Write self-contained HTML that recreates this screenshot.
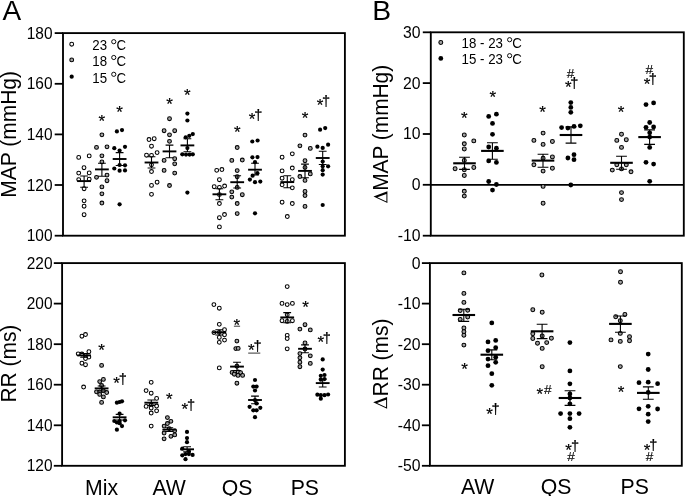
<!DOCTYPE html>
<html><head><meta charset="utf-8"><title>Figure</title>
<style>html,body{margin:0;padding:0;background:#fff}svg{display:block;will-change:transform}text{font-family:"Liberation Sans", sans-serif;fill:#000}</style>
</head><body>
<svg width="685" height="496" viewBox="0 0 685 496">
<rect x="0" y="0" width="685" height="496" fill="#fff"/>
<rect x="63.0" y="33.1" width="281.9" height="202.6" fill="none" stroke="#000" stroke-width="1.85"/>
<rect x="62.1" y="263.1" width="282.8" height="202.7" fill="none" stroke="#000" stroke-width="1.85"/>
<rect x="430.8" y="32.3" width="253.0" height="203.4" fill="none" stroke="#000" stroke-width="1.85"/>
<rect x="429.9" y="263.1" width="251.9" height="202.7" fill="none" stroke="#000" stroke-width="1.85"/>
<path d="M54.7 33.1H63.0" stroke="#000" stroke-width="1.8"/>
<text transform="translate(52.5,38.6) scale(0.945,1)" font-size="16.35" text-anchor="end">180</text>
<path d="M54.7 83.8H63.0" stroke="#000" stroke-width="1.8"/>
<text transform="translate(52.5,89.2) scale(0.945,1)" font-size="16.35" text-anchor="end">160</text>
<path d="M54.7 134.4H63.0" stroke="#000" stroke-width="1.8"/>
<text transform="translate(52.5,139.8) scale(0.945,1)" font-size="16.35" text-anchor="end">140</text>
<path d="M54.7 185.0H63.0" stroke="#000" stroke-width="1.8"/>
<text transform="translate(52.5,190.5) scale(0.945,1)" font-size="16.35" text-anchor="end">120</text>
<path d="M54.7 235.7H63.0" stroke="#000" stroke-width="1.8"/>
<text transform="translate(52.5,241.1) scale(0.945,1)" font-size="16.35" text-anchor="end">100</text>
<path d="M53.8 263.1H62.1" stroke="#000" stroke-width="1.8"/>
<text transform="translate(52.5,268.6) scale(0.945,1)" font-size="16.35" text-anchor="end">220</text>
<path d="M53.8 303.6H62.1" stroke="#000" stroke-width="1.8"/>
<text transform="translate(52.5,309.1) scale(0.945,1)" font-size="16.35" text-anchor="end">200</text>
<path d="M53.8 344.2H62.1" stroke="#000" stroke-width="1.8"/>
<text transform="translate(52.5,349.6) scale(0.945,1)" font-size="16.35" text-anchor="end">180</text>
<path d="M53.8 384.7H62.1" stroke="#000" stroke-width="1.8"/>
<text transform="translate(52.5,390.2) scale(0.945,1)" font-size="16.35" text-anchor="end">160</text>
<path d="M53.8 425.3H62.1" stroke="#000" stroke-width="1.8"/>
<text transform="translate(52.5,430.7) scale(0.945,1)" font-size="16.35" text-anchor="end">140</text>
<path d="M53.8 465.8H62.1" stroke="#000" stroke-width="1.8"/>
<text transform="translate(52.5,471.2) scale(0.945,1)" font-size="16.35" text-anchor="end">120</text>
<path d="M422.8 32.3H430.8" stroke="#000" stroke-width="1.8"/>
<text transform="translate(420.6,37.8) scale(0.965,1)" font-size="16.35" text-anchor="end">30</text>
<path d="M422.8 83.1H430.8" stroke="#000" stroke-width="1.8"/>
<text transform="translate(420.6,88.6) scale(0.965,1)" font-size="16.35" text-anchor="end">20</text>
<path d="M422.8 134.0H430.8" stroke="#000" stroke-width="1.8"/>
<text transform="translate(420.6,139.4) scale(0.965,1)" font-size="16.35" text-anchor="end">10</text>
<path d="M422.8 184.8H430.8" stroke="#000" stroke-width="1.8"/>
<text transform="translate(420.6,190.3) scale(0.965,1)" font-size="16.35" text-anchor="end">0</text>
<path d="M422.8 235.7H430.8" stroke="#000" stroke-width="1.8"/>
<text transform="translate(420.6,241.1) scale(0.965,1)" font-size="16.35" text-anchor="end">-10</text>
<path d="M421.9 263.1H429.9" stroke="#000" stroke-width="1.8"/>
<text transform="translate(420.6,268.6) scale(0.965,1)" font-size="16.35" text-anchor="end">0</text>
<path d="M421.9 303.6H429.9" stroke="#000" stroke-width="1.8"/>
<text transform="translate(420.6,309.1) scale(0.965,1)" font-size="16.35" text-anchor="end">-10</text>
<path d="M421.9 344.2H429.9" stroke="#000" stroke-width="1.8"/>
<text transform="translate(420.6,349.6) scale(0.965,1)" font-size="16.35" text-anchor="end">-20</text>
<path d="M421.9 384.7H429.9" stroke="#000" stroke-width="1.8"/>
<text transform="translate(420.6,390.2) scale(0.965,1)" font-size="16.35" text-anchor="end">-30</text>
<path d="M421.9 425.3H429.9" stroke="#000" stroke-width="1.8"/>
<text transform="translate(420.6,430.7) scale(0.965,1)" font-size="16.35" text-anchor="end">-40</text>
<path d="M421.9 465.8H429.9" stroke="#000" stroke-width="1.8"/>
<text transform="translate(420.6,471.2) scale(0.965,1)" font-size="16.35" text-anchor="end">-50</text>
<path d="M430.8 184.8H683.8" stroke="#000" stroke-width="1.85"/>
<text x="2.6" y="19.7" font-size="28">A</text>
<text x="372.3" y="19.8" font-size="28.3">B</text>
<text transform="translate(16.4,197.7) rotate(-90) scale(0.959,1)" font-size="21.9">MAP (mmHg)</text>
<text transform="translate(16.4,402.5) rotate(-90) scale(0.955,1)" font-size="21.9">RR (ms)</text>
<path d="M387.40 203.00 L373.50 196.50 L387.40 191.30Z M386.40 201.53 L377.36 197.31 L386.40 193.92Z" fill="#000" fill-rule="evenodd"/>
<text transform="translate(387.9,190.8) rotate(-90) scale(0.953,1)" font-size="21.9">MAP (mmHg)</text>
<path d="M387.10 408.80 L373.20 402.30 L387.10 397.10Z M386.10 407.33 L377.06 403.11 L386.10 399.72Z" fill="#000" fill-rule="evenodd"/>
<text transform="translate(387.8,396.4) rotate(-90) scale(0.955,1)" font-size="21.9">RR (ms)</text>
<text transform="translate(101.6,494.6) scale(0.975,1)" font-size="21.8" text-anchor="middle">Mix</text>
<text transform="translate(169.2,494.6) scale(0.975,1)" font-size="21.8" text-anchor="middle">AW</text>
<text transform="translate(237,494.6) scale(0.975,1)" font-size="21.8" text-anchor="middle">QS</text>
<text transform="translate(304.8,494.6) scale(0.975,1)" font-size="21.8" text-anchor="middle">PS</text>
<text transform="translate(477.6,494.3) scale(0.975,1)" font-size="21.8" text-anchor="middle">AW</text>
<text transform="translate(556.1,494.3) scale(0.975,1)" font-size="21.8" text-anchor="middle">QS</text>
<text transform="translate(634.7,494.3) scale(0.975,1)" font-size="21.8" text-anchor="middle">PS</text>
<circle cx="71.7" cy="44.2" r="1.9" fill="#fff" stroke="#000" stroke-width="1.05"/>
<text transform="translate(92.3,50.3) scale(0.935,1)" font-size="14.2">23</text>
<circle cx="113.76" cy="41.70" r="2.1" fill="none" stroke="#000" stroke-width="0.95"/>
<text transform="translate(116.51,50.3) scale(0.935,1)" font-size="14.2">C</text>
<circle cx="71.7" cy="59.9" r="1.9" fill="#a2a2a2" stroke="#000" stroke-width="1.05"/>
<text transform="translate(92.3,66.1) scale(0.935,1)" font-size="14.2">18</text>
<circle cx="113.76" cy="57.50" r="2.1" fill="none" stroke="#000" stroke-width="0.95"/>
<text transform="translate(116.51,66.1) scale(0.935,1)" font-size="14.2">C</text>
<circle cx="71.7" cy="76.7" r="2.1" fill="#000"/>
<text transform="translate(92.3,82.9) scale(0.935,1)" font-size="14.2">15</text>
<circle cx="113.76" cy="74.30" r="2.1" fill="none" stroke="#000" stroke-width="0.95"/>
<text transform="translate(116.51,82.9) scale(0.935,1)" font-size="14.2">C</text>
<circle cx="440.8" cy="42.5" r="1.95" fill="#a2a2a2" stroke="#000" stroke-width="1.05"/>
<text transform="translate(461.6,48.3) scale(0.935,1)" font-size="14.2">18 - 23</text>
<circle cx="509.62" cy="39.70" r="2.1" fill="none" stroke="#000" stroke-width="0.95"/>
<text transform="translate(512.37,48.3) scale(0.935,1)" font-size="14.2">C</text>
<circle cx="440.8" cy="58.4" r="2.4" fill="#000"/>
<text transform="translate(461.6,64.3) scale(0.935,1)" font-size="14.2">15 - 23</text>
<circle cx="509.62" cy="55.70" r="2.1" fill="none" stroke="#000" stroke-width="0.95"/>
<text transform="translate(512.37,64.3) scale(0.935,1)" font-size="14.2">C</text>
<circle cx="78.7" cy="157.4" r="1.9" fill="#fff" stroke="#000" stroke-width="1.05"/>
<circle cx="89.2" cy="155.9" r="1.9" fill="#fff" stroke="#000" stroke-width="1.05"/>
<circle cx="84.0" cy="167.7" r="1.9" fill="#fff" stroke="#000" stroke-width="1.05"/>
<circle cx="78.7" cy="173.1" r="1.9" fill="#fff" stroke="#000" stroke-width="1.05"/>
<circle cx="89.2" cy="172.9" r="1.9" fill="#fff" stroke="#000" stroke-width="1.05"/>
<circle cx="78.7" cy="179.6" r="1.9" fill="#fff" stroke="#000" stroke-width="1.05"/>
<circle cx="89.2" cy="179.2" r="1.9" fill="#fff" stroke="#000" stroke-width="1.05"/>
<circle cx="84.1" cy="188.7" r="1.9" fill="#fff" stroke="#000" stroke-width="1.05"/>
<circle cx="84.1" cy="200.8" r="1.9" fill="#fff" stroke="#000" stroke-width="1.05"/>
<circle cx="84.1" cy="206.2" r="1.9" fill="#fff" stroke="#000" stroke-width="1.05"/>
<circle cx="84.1" cy="214.7" r="1.9" fill="#fff" stroke="#000" stroke-width="1.05"/>
<path d="M84.1 176.0V187.2M80.2 176.0H88.0M80.2 187.2H88.0" stroke="#000" stroke-width="1.1" fill="none"/>
<path d="M77.2 181.1H91.0" stroke="#000" stroke-width="1.9" fill="none"/>
<circle cx="101.9" cy="134.8" r="1.9" fill="#a2a2a2" stroke="#000" stroke-width="1.05"/>
<circle cx="96.5" cy="147.4" r="1.9" fill="#a2a2a2" stroke="#000" stroke-width="1.05"/>
<circle cx="107.0" cy="146.8" r="1.9" fill="#a2a2a2" stroke="#000" stroke-width="1.05"/>
<circle cx="101.9" cy="155.8" r="1.9" fill="#a2a2a2" stroke="#000" stroke-width="1.05"/>
<circle cx="101.9" cy="161.9" r="1.9" fill="#a2a2a2" stroke="#000" stroke-width="1.05"/>
<circle cx="107.0" cy="175.1" r="1.9" fill="#a2a2a2" stroke="#000" stroke-width="1.05"/>
<circle cx="96.5" cy="177.3" r="1.9" fill="#a2a2a2" stroke="#000" stroke-width="1.05"/>
<circle cx="107.0" cy="180.7" r="1.9" fill="#a2a2a2" stroke="#000" stroke-width="1.05"/>
<circle cx="101.9" cy="186.9" r="1.9" fill="#a2a2a2" stroke="#000" stroke-width="1.05"/>
<circle cx="101.9" cy="193.8" r="1.9" fill="#a2a2a2" stroke="#000" stroke-width="1.05"/>
<circle cx="101.9" cy="203.0" r="1.9" fill="#a2a2a2" stroke="#000" stroke-width="1.05"/>
<path d="M101.9 163.2V176.3M98.0 163.2H105.8M98.0 176.3H105.8" stroke="#000" stroke-width="1.1" fill="none"/>
<path d="M95.0 169.4H108.8" stroke="#000" stroke-width="1.9" fill="none"/>
<circle cx="116.9" cy="131.4" r="2.1" fill="#000"/>
<circle cx="122.0" cy="130.1" r="2.1" fill="#000"/>
<circle cx="114.3" cy="148.2" r="2.1" fill="#000"/>
<circle cx="125.0" cy="146.8" r="2.1" fill="#000"/>
<circle cx="119.6" cy="150.5" r="2.1" fill="#000"/>
<circle cx="119.6" cy="165.0" r="2.1" fill="#000"/>
<circle cx="125.0" cy="165.3" r="2.1" fill="#000"/>
<circle cx="114.3" cy="168.5" r="2.1" fill="#000"/>
<circle cx="119.6" cy="170.7" r="2.1" fill="#000"/>
<circle cx="125.0" cy="170.4" r="2.1" fill="#000"/>
<circle cx="119.6" cy="204.3" r="2.1" fill="#000"/>
<path d="M119.6 152.6V165.5M115.7 152.6H123.5M115.7 165.5H123.5" stroke="#000" stroke-width="1.1" fill="none"/>
<path d="M112.7 159.0H126.5" stroke="#000" stroke-width="1.9" fill="none"/>
<circle cx="149.0" cy="139.5" r="1.9" fill="#fff" stroke="#000" stroke-width="1.05"/>
<circle cx="154.2" cy="138.7" r="1.9" fill="#fff" stroke="#000" stroke-width="1.05"/>
<circle cx="151.5" cy="146.2" r="1.9" fill="#fff" stroke="#000" stroke-width="1.05"/>
<circle cx="146.5" cy="155.2" r="1.9" fill="#fff" stroke="#000" stroke-width="1.05"/>
<circle cx="151.5" cy="155.3" r="1.9" fill="#fff" stroke="#000" stroke-width="1.05"/>
<circle cx="157.1" cy="152.6" r="1.9" fill="#fff" stroke="#000" stroke-width="1.05"/>
<circle cx="151.5" cy="164.8" r="1.9" fill="#fff" stroke="#000" stroke-width="1.05"/>
<circle cx="151.5" cy="171.5" r="1.9" fill="#fff" stroke="#000" stroke-width="1.05"/>
<circle cx="157.1" cy="182.2" r="1.9" fill="#fff" stroke="#000" stroke-width="1.05"/>
<circle cx="151.5" cy="185.4" r="1.9" fill="#fff" stroke="#000" stroke-width="1.05"/>
<circle cx="151.5" cy="194.3" r="1.9" fill="#fff" stroke="#000" stroke-width="1.05"/>
<path d="M151.5 156.7V168.0M147.6 156.7H155.4M147.6 168.0H155.4" stroke="#000" stroke-width="1.1" fill="none"/>
<path d="M144.6 162.5H158.4" stroke="#000" stroke-width="1.9" fill="none"/>
<circle cx="169.5" cy="118.7" r="1.9" fill="#a2a2a2" stroke="#000" stroke-width="1.05"/>
<circle cx="164.1" cy="130.7" r="1.9" fill="#a2a2a2" stroke="#000" stroke-width="1.05"/>
<circle cx="174.7" cy="130.7" r="1.9" fill="#a2a2a2" stroke="#000" stroke-width="1.05"/>
<circle cx="169.5" cy="134.8" r="1.9" fill="#a2a2a2" stroke="#000" stroke-width="1.05"/>
<circle cx="169.5" cy="141.3" r="1.9" fill="#a2a2a2" stroke="#000" stroke-width="1.05"/>
<circle cx="174.7" cy="158.7" r="1.9" fill="#a2a2a2" stroke="#000" stroke-width="1.05"/>
<circle cx="164.1" cy="160.4" r="1.9" fill="#a2a2a2" stroke="#000" stroke-width="1.05"/>
<circle cx="174.7" cy="163.8" r="1.9" fill="#a2a2a2" stroke="#000" stroke-width="1.05"/>
<circle cx="164.1" cy="170.4" r="1.9" fill="#a2a2a2" stroke="#000" stroke-width="1.05"/>
<circle cx="174.7" cy="173.1" r="1.9" fill="#a2a2a2" stroke="#000" stroke-width="1.05"/>
<circle cx="169.5" cy="185.5" r="1.9" fill="#a2a2a2" stroke="#000" stroke-width="1.05"/>
<path d="M169.5 145.1V157.8M165.6 145.1H173.4M165.6 157.8H173.4" stroke="#000" stroke-width="1.1" fill="none"/>
<path d="M162.6 151.4H176.4" stroke="#000" stroke-width="1.9" fill="none"/>
<circle cx="187.4" cy="113.6" r="2.1" fill="#000"/>
<circle cx="187.4" cy="120.5" r="2.1" fill="#000"/>
<circle cx="192.8" cy="134.1" r="2.1" fill="#000"/>
<circle cx="189.3" cy="135.8" r="2.1" fill="#000"/>
<circle cx="185.7" cy="137.3" r="2.1" fill="#000"/>
<circle cx="187.4" cy="148.1" r="2.1" fill="#000"/>
<circle cx="182.3" cy="154.3" r="2.1" fill="#000"/>
<circle cx="186.0" cy="154.6" r="2.1" fill="#000"/>
<circle cx="189.6" cy="154.6" r="2.1" fill="#000"/>
<circle cx="192.8" cy="154.3" r="2.1" fill="#000"/>
<circle cx="187.4" cy="192.6" r="2.1" fill="#000"/>
<path d="M187.4 138.7V151.7M183.5 138.7H191.3M183.5 151.7H191.3" stroke="#000" stroke-width="1.1" fill="none"/>
<path d="M180.5 145.4H194.3" stroke="#000" stroke-width="1.9" fill="none"/>
<circle cx="216.7" cy="170.3" r="1.9" fill="#fff" stroke="#000" stroke-width="1.05"/>
<circle cx="221.9" cy="169.5" r="1.9" fill="#fff" stroke="#000" stroke-width="1.05"/>
<circle cx="219.4" cy="179.7" r="1.9" fill="#fff" stroke="#000" stroke-width="1.05"/>
<circle cx="214.2" cy="186.7" r="1.9" fill="#fff" stroke="#000" stroke-width="1.05"/>
<circle cx="219.4" cy="187.4" r="1.9" fill="#fff" stroke="#000" stroke-width="1.05"/>
<circle cx="224.6" cy="186.0" r="1.9" fill="#fff" stroke="#000" stroke-width="1.05"/>
<circle cx="219.4" cy="194.6" r="1.9" fill="#fff" stroke="#000" stroke-width="1.05"/>
<circle cx="219.4" cy="203.5" r="1.9" fill="#fff" stroke="#000" stroke-width="1.05"/>
<circle cx="224.5" cy="214.5" r="1.9" fill="#fff" stroke="#000" stroke-width="1.05"/>
<circle cx="219.4" cy="217.7" r="1.9" fill="#fff" stroke="#000" stroke-width="1.05"/>
<circle cx="219.4" cy="226.9" r="1.9" fill="#fff" stroke="#000" stroke-width="1.05"/>
<path d="M219.4 188.7V199.8M215.5 188.7H223.3M215.5 199.8H223.3" stroke="#000" stroke-width="1.1" fill="none"/>
<path d="M212.5 194.3H226.3" stroke="#000" stroke-width="1.9" fill="none"/>
<circle cx="237.2" cy="147.5" r="1.9" fill="#a2a2a2" stroke="#000" stroke-width="1.05"/>
<circle cx="231.8" cy="160.4" r="1.9" fill="#a2a2a2" stroke="#000" stroke-width="1.05"/>
<circle cx="242.3" cy="160.0" r="1.9" fill="#a2a2a2" stroke="#000" stroke-width="1.05"/>
<circle cx="237.2" cy="170.6" r="1.9" fill="#a2a2a2" stroke="#000" stroke-width="1.05"/>
<circle cx="237.2" cy="176.7" r="1.9" fill="#a2a2a2" stroke="#000" stroke-width="1.05"/>
<circle cx="237.2" cy="187.4" r="1.9" fill="#a2a2a2" stroke="#000" stroke-width="1.05"/>
<circle cx="231.8" cy="191.8" r="1.9" fill="#a2a2a2" stroke="#000" stroke-width="1.05"/>
<circle cx="242.3" cy="194.7" r="1.9" fill="#a2a2a2" stroke="#000" stroke-width="1.05"/>
<circle cx="231.8" cy="197.1" r="1.9" fill="#a2a2a2" stroke="#000" stroke-width="1.05"/>
<circle cx="237.2" cy="203.5" r="1.9" fill="#a2a2a2" stroke="#000" stroke-width="1.05"/>
<circle cx="237.2" cy="213.6" r="1.9" fill="#a2a2a2" stroke="#000" stroke-width="1.05"/>
<path d="M237.2 175.8V188.0M233.3 175.8H241.1M233.3 188.0H241.1" stroke="#000" stroke-width="1.1" fill="none"/>
<path d="M230.3 182.2H244.1" stroke="#000" stroke-width="1.9" fill="none"/>
<circle cx="252.3" cy="141.5" r="2.1" fill="#000"/>
<circle cx="257.6" cy="140.5" r="2.1" fill="#000"/>
<circle cx="252.4" cy="157.3" r="2.1" fill="#000"/>
<circle cx="257.5" cy="157.1" r="2.1" fill="#000"/>
<circle cx="255.0" cy="162.2" r="2.1" fill="#000"/>
<circle cx="257.4" cy="173.2" r="2.1" fill="#000"/>
<circle cx="252.6" cy="175.7" r="2.1" fill="#000"/>
<circle cx="249.9" cy="179.6" r="2.1" fill="#000"/>
<circle cx="255.0" cy="182.2" r="2.1" fill="#000"/>
<circle cx="260.3" cy="181.6" r="2.1" fill="#000"/>
<circle cx="255.0" cy="213.3" r="2.1" fill="#000"/>
<path d="M255.0 163.3V175.0M251.1 163.3H258.9M251.1 175.0H258.9" stroke="#000" stroke-width="1.1" fill="none"/>
<path d="M248.1 169.7H261.9" stroke="#000" stroke-width="1.9" fill="none"/>
<circle cx="282.1" cy="157.2" r="1.9" fill="#fff" stroke="#000" stroke-width="1.05"/>
<circle cx="292.3" cy="153.8" r="1.9" fill="#fff" stroke="#000" stroke-width="1.05"/>
<circle cx="282.1" cy="170.9" r="1.9" fill="#fff" stroke="#000" stroke-width="1.05"/>
<circle cx="292.3" cy="168.0" r="1.9" fill="#fff" stroke="#000" stroke-width="1.05"/>
<circle cx="282.1" cy="178.2" r="1.9" fill="#fff" stroke="#000" stroke-width="1.05"/>
<circle cx="292.3" cy="179.7" r="1.9" fill="#fff" stroke="#000" stroke-width="1.05"/>
<circle cx="282.1" cy="184.8" r="1.9" fill="#fff" stroke="#000" stroke-width="1.05"/>
<circle cx="292.3" cy="187.8" r="1.9" fill="#fff" stroke="#000" stroke-width="1.05"/>
<circle cx="282.1" cy="202.2" r="1.9" fill="#fff" stroke="#000" stroke-width="1.05"/>
<circle cx="292.3" cy="203.5" r="1.9" fill="#fff" stroke="#000" stroke-width="1.05"/>
<circle cx="287.3" cy="216.5" r="1.9" fill="#fff" stroke="#000" stroke-width="1.05"/>
<path d="M287.3 175.8V187.7M283.4 175.8H291.2M283.4 187.7H291.2" stroke="#000" stroke-width="1.1" fill="none"/>
<path d="M280.4 182.1H294.2" stroke="#000" stroke-width="1.9" fill="none"/>
<circle cx="305.0" cy="135.1" r="1.9" fill="#a2a2a2" stroke="#000" stroke-width="1.05"/>
<circle cx="299.9" cy="145.8" r="1.9" fill="#a2a2a2" stroke="#000" stroke-width="1.05"/>
<circle cx="310.3" cy="148.4" r="1.9" fill="#a2a2a2" stroke="#000" stroke-width="1.05"/>
<circle cx="305.0" cy="160.7" r="1.9" fill="#a2a2a2" stroke="#000" stroke-width="1.05"/>
<circle cx="305.0" cy="167.4" r="1.9" fill="#a2a2a2" stroke="#000" stroke-width="1.05"/>
<circle cx="299.9" cy="176.5" r="1.9" fill="#a2a2a2" stroke="#000" stroke-width="1.05"/>
<circle cx="310.3" cy="173.9" r="1.9" fill="#a2a2a2" stroke="#000" stroke-width="1.05"/>
<circle cx="305.0" cy="180.4" r="1.9" fill="#a2a2a2" stroke="#000" stroke-width="1.05"/>
<circle cx="305.0" cy="191.4" r="1.9" fill="#a2a2a2" stroke="#000" stroke-width="1.05"/>
<circle cx="305.0" cy="195.5" r="1.9" fill="#a2a2a2" stroke="#000" stroke-width="1.05"/>
<circle cx="305.0" cy="206.4" r="1.9" fill="#a2a2a2" stroke="#000" stroke-width="1.05"/>
<path d="M305.0 164.1V177.7M301.1 164.1H308.9M301.1 177.7H308.9" stroke="#000" stroke-width="1.1" fill="none"/>
<path d="M298.1 170.9H311.9" stroke="#000" stroke-width="1.9" fill="none"/>
<circle cx="320.1" cy="129.7" r="2.1" fill="#000"/>
<circle cx="325.2" cy="128.1" r="2.1" fill="#000"/>
<circle cx="317.4" cy="146.7" r="2.1" fill="#000"/>
<circle cx="322.7" cy="147.9" r="2.1" fill="#000"/>
<circle cx="328.1" cy="144.7" r="2.1" fill="#000"/>
<circle cx="322.7" cy="161.6" r="2.1" fill="#000"/>
<circle cx="322.7" cy="166.3" r="2.1" fill="#000"/>
<circle cx="328.1" cy="166.3" r="2.1" fill="#000"/>
<circle cx="322.7" cy="170.2" r="2.1" fill="#000"/>
<circle cx="322.7" cy="174.6" r="2.1" fill="#000"/>
<circle cx="322.7" cy="205.0" r="2.1" fill="#000"/>
<path d="M322.7 151.3V164.5M318.8 151.3H326.6M318.8 164.5H326.6" stroke="#000" stroke-width="1.1" fill="none"/>
<path d="M315.8 158.0H329.6" stroke="#000" stroke-width="1.9" fill="none"/>
<circle cx="81.9" cy="336.2" r="1.9" fill="#fff" stroke="#000" stroke-width="1.05"/>
<circle cx="85.5" cy="334.5" r="1.9" fill="#fff" stroke="#000" stroke-width="1.05"/>
<circle cx="78.2" cy="353.8" r="1.9" fill="#fff" stroke="#000" stroke-width="1.05"/>
<circle cx="88.9" cy="351.7" r="1.9" fill="#fff" stroke="#000" stroke-width="1.05"/>
<circle cx="81.9" cy="354.0" r="1.9" fill="#fff" stroke="#000" stroke-width="1.05"/>
<circle cx="85.5" cy="355.5" r="1.9" fill="#fff" stroke="#000" stroke-width="1.05"/>
<circle cx="88.9" cy="357.1" r="1.9" fill="#fff" stroke="#000" stroke-width="1.05"/>
<circle cx="85.5" cy="358.6" r="1.9" fill="#fff" stroke="#000" stroke-width="1.05"/>
<circle cx="81.9" cy="363.2" r="1.9" fill="#fff" stroke="#000" stroke-width="1.05"/>
<circle cx="85.5" cy="364.7" r="1.9" fill="#fff" stroke="#000" stroke-width="1.05"/>
<circle cx="83.6" cy="387.0" r="1.9" fill="#fff" stroke="#000" stroke-width="1.05"/>
<path d="M84.1 353.5V357.3M80.2 353.5H88.0M80.2 357.3H88.0" stroke="#000" stroke-width="1.1" fill="none"/>
<path d="M77.2 355.4H91.0" stroke="#000" stroke-width="1.9" fill="none"/>
<circle cx="101.6" cy="365.4" r="1.9" fill="#a2a2a2" stroke="#000" stroke-width="1.05"/>
<circle cx="103.4" cy="379.4" r="1.9" fill="#a2a2a2" stroke="#000" stroke-width="1.05"/>
<circle cx="99.7" cy="381.6" r="1.9" fill="#a2a2a2" stroke="#000" stroke-width="1.05"/>
<circle cx="101.6" cy="385.5" r="1.9" fill="#a2a2a2" stroke="#000" stroke-width="1.05"/>
<circle cx="96.5" cy="391.8" r="1.9" fill="#a2a2a2" stroke="#000" stroke-width="1.05"/>
<circle cx="99.7" cy="391.8" r="1.9" fill="#a2a2a2" stroke="#000" stroke-width="1.05"/>
<circle cx="103.4" cy="390.8" r="1.9" fill="#a2a2a2" stroke="#000" stroke-width="1.05"/>
<circle cx="106.7" cy="392.5" r="1.9" fill="#a2a2a2" stroke="#000" stroke-width="1.05"/>
<circle cx="99.7" cy="394.4" r="1.9" fill="#a2a2a2" stroke="#000" stroke-width="1.05"/>
<circle cx="103.4" cy="396.9" r="1.9" fill="#a2a2a2" stroke="#000" stroke-width="1.05"/>
<circle cx="101.6" cy="402.4" r="1.9" fill="#a2a2a2" stroke="#000" stroke-width="1.05"/>
<path d="M101.6 386.0V391.0M97.7 386.0H105.5M97.7 391.0H105.5" stroke="#000" stroke-width="1.1" fill="none"/>
<path d="M94.7 388.4H108.5" stroke="#000" stroke-width="1.9" fill="none"/>
<circle cx="116.9" cy="402.7" r="2.1" fill="#000"/>
<circle cx="119.6" cy="402.0" r="2.1" fill="#000"/>
<circle cx="122.0" cy="401.3" r="2.1" fill="#000"/>
<circle cx="119.6" cy="413.7" r="2.1" fill="#000"/>
<circle cx="114.3" cy="421.0" r="2.1" fill="#000"/>
<circle cx="119.6" cy="421.0" r="2.1" fill="#000"/>
<circle cx="125.0" cy="420.3" r="2.1" fill="#000"/>
<circle cx="116.9" cy="422.5" r="2.1" fill="#000"/>
<circle cx="119.6" cy="423.2" r="2.1" fill="#000"/>
<circle cx="122.0" cy="426.1" r="2.1" fill="#000"/>
<circle cx="116.9" cy="429.7" r="2.1" fill="#000"/>
<path d="M119.6 414.4V420.0M115.7 414.4H123.5M115.7 420.0H123.5" stroke="#000" stroke-width="1.1" fill="none"/>
<path d="M112.7 417.3H126.5" stroke="#000" stroke-width="1.9" fill="none"/>
<circle cx="151.2" cy="382.3" r="1.9" fill="#fff" stroke="#000" stroke-width="1.05"/>
<circle cx="146.1" cy="390.6" r="1.9" fill="#fff" stroke="#000" stroke-width="1.05"/>
<circle cx="151.2" cy="393.2" r="1.9" fill="#fff" stroke="#000" stroke-width="1.05"/>
<circle cx="156.6" cy="398.4" r="1.9" fill="#fff" stroke="#000" stroke-width="1.05"/>
<circle cx="146.1" cy="406.4" r="1.9" fill="#fff" stroke="#000" stroke-width="1.05"/>
<circle cx="151.2" cy="405.0" r="1.9" fill="#fff" stroke="#000" stroke-width="1.05"/>
<circle cx="156.6" cy="406.0" r="1.9" fill="#fff" stroke="#000" stroke-width="1.05"/>
<circle cx="151.2" cy="408.0" r="1.9" fill="#fff" stroke="#000" stroke-width="1.05"/>
<circle cx="156.6" cy="410.8" r="1.9" fill="#fff" stroke="#000" stroke-width="1.05"/>
<circle cx="151.2" cy="413.0" r="1.9" fill="#fff" stroke="#000" stroke-width="1.05"/>
<circle cx="151.2" cy="426.1" r="1.9" fill="#fff" stroke="#000" stroke-width="1.05"/>
<path d="M151.3 400.0V405.4M147.4 400.0H155.2M147.4 405.4H155.2" stroke="#000" stroke-width="1.1" fill="none"/>
<path d="M144.4 402.7H158.2" stroke="#000" stroke-width="1.9" fill="none"/>
<circle cx="167.4" cy="417.6" r="1.9" fill="#a2a2a2" stroke="#000" stroke-width="1.05"/>
<circle cx="170.9" cy="421.3" r="1.9" fill="#a2a2a2" stroke="#000" stroke-width="1.05"/>
<circle cx="167.4" cy="423.5" r="1.9" fill="#a2a2a2" stroke="#000" stroke-width="1.05"/>
<circle cx="164.1" cy="426.1" r="1.9" fill="#a2a2a2" stroke="#000" stroke-width="1.05"/>
<circle cx="169.2" cy="428.6" r="1.9" fill="#a2a2a2" stroke="#000" stroke-width="1.05"/>
<circle cx="174.7" cy="430.8" r="1.9" fill="#a2a2a2" stroke="#000" stroke-width="1.05"/>
<circle cx="164.1" cy="433.0" r="1.9" fill="#a2a2a2" stroke="#000" stroke-width="1.05"/>
<circle cx="174.7" cy="434.9" r="1.9" fill="#a2a2a2" stroke="#000" stroke-width="1.05"/>
<circle cx="170.9" cy="436.3" r="1.9" fill="#a2a2a2" stroke="#000" stroke-width="1.05"/>
<circle cx="164.1" cy="438.8" r="1.9" fill="#a2a2a2" stroke="#000" stroke-width="1.05"/>
<path d="M169.3 427.8V431.5M165.4 427.8H173.2M165.4 431.5H173.2" stroke="#000" stroke-width="1.1" fill="none"/>
<path d="M162.4 429.6H176.2" stroke="#000" stroke-width="1.9" fill="none"/>
<circle cx="187.0" cy="431.9" r="2.1" fill="#000"/>
<circle cx="187.0" cy="438.1" r="2.1" fill="#000"/>
<circle cx="187.0" cy="442.2" r="2.1" fill="#000"/>
<circle cx="182.3" cy="448.7" r="2.1" fill="#000"/>
<circle cx="188.9" cy="451.2" r="2.1" fill="#000"/>
<circle cx="182.3" cy="455.3" r="2.1" fill="#000"/>
<circle cx="185.5" cy="454.1" r="2.1" fill="#000"/>
<circle cx="188.9" cy="454.1" r="2.1" fill="#000"/>
<circle cx="192.6" cy="454.9" r="2.1" fill="#000"/>
<circle cx="185.5" cy="459.2" r="2.1" fill="#000"/>
<path d="M187.1 446.8V451.9M183.2 446.8H191.0M183.2 451.9H191.0" stroke="#000" stroke-width="1.1" fill="none"/>
<path d="M180.2 449.3H194.0" stroke="#000" stroke-width="1.9" fill="none"/>
<circle cx="213.9" cy="304.6" r="1.9" fill="#fff" stroke="#000" stroke-width="1.05"/>
<circle cx="219.3" cy="308.2" r="1.9" fill="#fff" stroke="#000" stroke-width="1.05"/>
<circle cx="219.3" cy="324.3" r="1.9" fill="#fff" stroke="#000" stroke-width="1.05"/>
<circle cx="224.5" cy="329.7" r="1.9" fill="#fff" stroke="#000" stroke-width="1.05"/>
<circle cx="213.9" cy="332.6" r="1.9" fill="#fff" stroke="#000" stroke-width="1.05"/>
<circle cx="219.3" cy="332.3" r="1.9" fill="#fff" stroke="#000" stroke-width="1.05"/>
<circle cx="224.5" cy="334.8" r="1.9" fill="#fff" stroke="#000" stroke-width="1.05"/>
<circle cx="219.3" cy="337.4" r="1.9" fill="#fff" stroke="#000" stroke-width="1.05"/>
<circle cx="224.5" cy="340.1" r="1.9" fill="#fff" stroke="#000" stroke-width="1.05"/>
<circle cx="219.3" cy="342.3" r="1.9" fill="#fff" stroke="#000" stroke-width="1.05"/>
<circle cx="219.3" cy="367.9" r="1.9" fill="#fff" stroke="#000" stroke-width="1.05"/>
<path d="M219.3 329.7V335.0M215.4 329.7H223.2M215.4 335.0H223.2" stroke="#000" stroke-width="1.1" fill="none"/>
<path d="M212.4 332.3H226.2" stroke="#000" stroke-width="1.9" fill="none"/>
<circle cx="236.9" cy="341.1" r="1.9" fill="#a2a2a2" stroke="#000" stroke-width="1.05"/>
<circle cx="235.8" cy="348.6" r="1.9" fill="#a2a2a2" stroke="#000" stroke-width="1.05"/>
<circle cx="238.2" cy="348.4" r="1.9" fill="#a2a2a2" stroke="#000" stroke-width="1.05"/>
<circle cx="236.9" cy="366.2" r="1.9" fill="#a2a2a2" stroke="#000" stroke-width="1.05"/>
<circle cx="232.1" cy="372.4" r="1.9" fill="#a2a2a2" stroke="#000" stroke-width="1.05"/>
<circle cx="235.0" cy="372.4" r="1.9" fill="#a2a2a2" stroke="#000" stroke-width="1.05"/>
<circle cx="238.2" cy="372.0" r="1.9" fill="#a2a2a2" stroke="#000" stroke-width="1.05"/>
<circle cx="240.6" cy="372.7" r="1.9" fill="#a2a2a2" stroke="#000" stroke-width="1.05"/>
<circle cx="234.3" cy="374.2" r="1.9" fill="#a2a2a2" stroke="#000" stroke-width="1.05"/>
<circle cx="238.0" cy="375.4" r="1.9" fill="#a2a2a2" stroke="#000" stroke-width="1.05"/>
<circle cx="242.6" cy="375.4" r="1.9" fill="#a2a2a2" stroke="#000" stroke-width="1.05"/>
<circle cx="236.9" cy="383.2" r="1.9" fill="#a2a2a2" stroke="#000" stroke-width="1.05"/>
<path d="M237.0 362.2V370.5M233.1 362.2H240.9M233.1 370.5H240.9" stroke="#000" stroke-width="1.1" fill="none"/>
<path d="M230.1 366.6H243.9" stroke="#000" stroke-width="1.9" fill="none"/>
<circle cx="255.0" cy="380.0" r="2.1" fill="#000"/>
<circle cx="253.3" cy="386.6" r="2.1" fill="#000"/>
<circle cx="256.6" cy="386.6" r="2.1" fill="#000"/>
<circle cx="255.0" cy="390.5" r="2.1" fill="#000"/>
<circle cx="255.0" cy="400.2" r="2.1" fill="#000"/>
<circle cx="256.6" cy="403.4" r="2.1" fill="#000"/>
<circle cx="249.6" cy="406.8" r="2.1" fill="#000"/>
<circle cx="260.3" cy="407.8" r="2.1" fill="#000"/>
<circle cx="253.3" cy="410.3" r="2.1" fill="#000"/>
<circle cx="256.6" cy="410.3" r="2.1" fill="#000"/>
<circle cx="255.0" cy="417.2" r="2.1" fill="#000"/>
<path d="M255.0 396.1V403.8M251.1 396.1H258.9M251.1 403.8H258.9" stroke="#000" stroke-width="1.1" fill="none"/>
<path d="M248.1 400.0H261.9" stroke="#000" stroke-width="1.9" fill="none"/>
<circle cx="287.2" cy="286.6" r="1.9" fill="#fff" stroke="#000" stroke-width="1.05"/>
<circle cx="282.0" cy="303.4" r="1.9" fill="#fff" stroke="#000" stroke-width="1.05"/>
<circle cx="287.2" cy="304.6" r="1.9" fill="#fff" stroke="#000" stroke-width="1.05"/>
<circle cx="292.4" cy="303.4" r="1.9" fill="#fff" stroke="#000" stroke-width="1.05"/>
<circle cx="287.2" cy="314.8" r="1.9" fill="#fff" stroke="#000" stroke-width="1.05"/>
<circle cx="282.0" cy="320.7" r="1.9" fill="#fff" stroke="#000" stroke-width="1.05"/>
<circle cx="287.2" cy="321.4" r="1.9" fill="#fff" stroke="#000" stroke-width="1.05"/>
<circle cx="292.4" cy="320.7" r="1.9" fill="#fff" stroke="#000" stroke-width="1.05"/>
<circle cx="287.2" cy="335.3" r="1.9" fill="#fff" stroke="#000" stroke-width="1.05"/>
<circle cx="287.2" cy="338.6" r="1.9" fill="#fff" stroke="#000" stroke-width="1.05"/>
<circle cx="287.2" cy="348.8" r="1.9" fill="#fff" stroke="#000" stroke-width="1.05"/>
<path d="M287.2 312.6V322.8M283.3 312.6H291.1M283.3 322.8H291.1" stroke="#000" stroke-width="1.1" fill="none"/>
<path d="M280.3 317.4H294.1" stroke="#000" stroke-width="1.9" fill="none"/>
<circle cx="305.0" cy="324.7" r="1.9" fill="#a2a2a2" stroke="#000" stroke-width="1.05"/>
<circle cx="299.9" cy="329.1" r="1.9" fill="#a2a2a2" stroke="#000" stroke-width="1.05"/>
<circle cx="310.3" cy="329.9" r="1.9" fill="#a2a2a2" stroke="#000" stroke-width="1.05"/>
<circle cx="305.0" cy="342.9" r="1.9" fill="#a2a2a2" stroke="#000" stroke-width="1.05"/>
<circle cx="305.0" cy="349.0" r="1.9" fill="#a2a2a2" stroke="#000" stroke-width="1.05"/>
<circle cx="299.9" cy="353.6" r="1.9" fill="#a2a2a2" stroke="#000" stroke-width="1.05"/>
<circle cx="310.3" cy="355.8" r="1.9" fill="#a2a2a2" stroke="#000" stroke-width="1.05"/>
<circle cx="299.9" cy="357.8" r="1.9" fill="#a2a2a2" stroke="#000" stroke-width="1.05"/>
<circle cx="299.9" cy="362.2" r="1.9" fill="#a2a2a2" stroke="#000" stroke-width="1.05"/>
<circle cx="310.3" cy="363.4" r="1.9" fill="#a2a2a2" stroke="#000" stroke-width="1.05"/>
<circle cx="299.9" cy="366.7" r="1.9" fill="#a2a2a2" stroke="#000" stroke-width="1.05"/>
<path d="M305.0 344.9V352.8M301.1 344.9H308.9M301.1 352.8H308.9" stroke="#000" stroke-width="1.1" fill="none"/>
<path d="M298.1 348.8H311.9" stroke="#000" stroke-width="1.9" fill="none"/>
<circle cx="322.7" cy="359.4" r="2.1" fill="#000"/>
<circle cx="322.7" cy="369.6" r="2.1" fill="#000"/>
<circle cx="320.8" cy="375.8" r="2.1" fill="#000"/>
<circle cx="324.5" cy="375.0" r="2.1" fill="#000"/>
<circle cx="320.8" cy="379.7" r="2.1" fill="#000"/>
<circle cx="324.5" cy="379.1" r="2.1" fill="#000"/>
<circle cx="317.4" cy="394.7" r="2.1" fill="#000"/>
<circle cx="320.8" cy="395.2" r="2.1" fill="#000"/>
<circle cx="324.5" cy="395.2" r="2.1" fill="#000"/>
<circle cx="328.1" cy="394.5" r="2.1" fill="#000"/>
<circle cx="320.8" cy="398.7" r="2.1" fill="#000"/>
<path d="M322.7 379.1V387.0M318.8 379.1H326.6M318.8 387.0H326.6" stroke="#000" stroke-width="1.1" fill="none"/>
<path d="M315.8 383.1H329.6" stroke="#000" stroke-width="1.9" fill="none"/>
<circle cx="464.3" cy="135.0" r="1.95" fill="#a2a2a2" stroke="#000" stroke-width="1.05"/>
<circle cx="473.8" cy="140.9" r="1.95" fill="#a2a2a2" stroke="#000" stroke-width="1.05"/>
<circle cx="464.3" cy="143.8" r="1.95" fill="#a2a2a2" stroke="#000" stroke-width="1.05"/>
<circle cx="464.3" cy="149.0" r="1.95" fill="#a2a2a2" stroke="#000" stroke-width="1.05"/>
<circle cx="464.3" cy="160.4" r="1.95" fill="#a2a2a2" stroke="#000" stroke-width="1.05"/>
<circle cx="455.1" cy="168.7" r="1.95" fill="#a2a2a2" stroke="#000" stroke-width="1.05"/>
<circle cx="473.8" cy="167.5" r="1.95" fill="#a2a2a2" stroke="#000" stroke-width="1.05"/>
<circle cx="464.3" cy="169.7" r="1.95" fill="#a2a2a2" stroke="#000" stroke-width="1.05"/>
<circle cx="464.3" cy="175.5" r="1.95" fill="#a2a2a2" stroke="#000" stroke-width="1.05"/>
<circle cx="464.3" cy="191.3" r="1.95" fill="#a2a2a2" stroke="#000" stroke-width="1.05"/>
<circle cx="464.3" cy="196.1" r="1.95" fill="#a2a2a2" stroke="#000" stroke-width="1.05"/>
<path d="M464.5 157.3V169.4M459.1 157.3H469.9M459.1 169.4H469.9" stroke="#000" stroke-width="1.1" fill="none"/>
<path d="M453.2 163.3H475.8" stroke="#000" stroke-width="2.1" fill="none"/>
<circle cx="488.7" cy="116.4" r="2.4" fill="#000"/>
<circle cx="496.4" cy="114.2" r="2.4" fill="#000"/>
<circle cx="492.5" cy="123.4" r="2.4" fill="#000"/>
<circle cx="492.5" cy="134.3" r="2.4" fill="#000"/>
<circle cx="488.7" cy="147.0" r="2.4" fill="#000"/>
<circle cx="496.4" cy="148.2" r="2.4" fill="#000"/>
<circle cx="488.7" cy="160.9" r="2.4" fill="#000"/>
<circle cx="496.4" cy="162.4" r="2.4" fill="#000"/>
<circle cx="488.7" cy="181.5" r="2.4" fill="#000"/>
<circle cx="496.4" cy="184.5" r="2.4" fill="#000"/>
<circle cx="492.5" cy="190.1" r="2.4" fill="#000"/>
<path d="M492.4 142.7V159.2M487.0 142.7H497.8M487.0 159.2H497.8" stroke="#000" stroke-width="1.1" fill="none"/>
<path d="M481.1 150.9H503.7" stroke="#000" stroke-width="2.1" fill="none"/>
<circle cx="543.1" cy="133.1" r="1.95" fill="#a2a2a2" stroke="#000" stroke-width="1.05"/>
<circle cx="533.9" cy="140.4" r="1.95" fill="#a2a2a2" stroke="#000" stroke-width="1.05"/>
<circle cx="552.4" cy="141.5" r="1.95" fill="#a2a2a2" stroke="#000" stroke-width="1.05"/>
<circle cx="543.1" cy="144.4" r="1.95" fill="#a2a2a2" stroke="#000" stroke-width="1.05"/>
<circle cx="552.4" cy="156.9" r="1.95" fill="#a2a2a2" stroke="#000" stroke-width="1.05"/>
<circle cx="543.1" cy="158.2" r="1.95" fill="#a2a2a2" stroke="#000" stroke-width="1.05"/>
<circle cx="533.9" cy="164.8" r="1.95" fill="#a2a2a2" stroke="#000" stroke-width="1.05"/>
<circle cx="552.4" cy="168.2" r="1.95" fill="#a2a2a2" stroke="#000" stroke-width="1.05"/>
<circle cx="543.1" cy="171.1" r="1.95" fill="#a2a2a2" stroke="#000" stroke-width="1.05"/>
<circle cx="543.1" cy="186.4" r="1.95" fill="#a2a2a2" stroke="#000" stroke-width="1.05"/>
<circle cx="543.1" cy="203.2" r="1.95" fill="#a2a2a2" stroke="#000" stroke-width="1.05"/>
<path d="M543.0 154.3V167.2M537.6 154.3H548.4M537.6 167.2H548.4" stroke="#000" stroke-width="1.1" fill="none"/>
<path d="M531.7 160.6H554.3" stroke="#000" stroke-width="2.1" fill="none"/>
<circle cx="570.8" cy="102.6" r="2.4" fill="#000"/>
<circle cx="570.8" cy="107.4" r="2.4" fill="#000"/>
<circle cx="570.8" cy="112.3" r="2.4" fill="#000"/>
<circle cx="561.6" cy="127.6" r="2.4" fill="#000"/>
<circle cx="567.9" cy="128.1" r="2.4" fill="#000"/>
<circle cx="574.0" cy="126.4" r="2.4" fill="#000"/>
<circle cx="580.3" cy="125.8" r="2.4" fill="#000"/>
<circle cx="574.0" cy="154.7" r="2.4" fill="#000"/>
<circle cx="567.9" cy="158.0" r="2.4" fill="#000"/>
<circle cx="574.0" cy="159.7" r="2.4" fill="#000"/>
<circle cx="570.8" cy="185.0" r="2.4" fill="#000"/>
<path d="M571.0 126.9V143.1M565.6 126.9H576.4M565.6 143.1H576.4" stroke="#000" stroke-width="1.1" fill="none"/>
<path d="M559.7 135.0H582.3" stroke="#000" stroke-width="2.1" fill="none"/>
<circle cx="621.5" cy="134.2" r="1.95" fill="#a2a2a2" stroke="#000" stroke-width="1.05"/>
<circle cx="616.8" cy="140.4" r="1.95" fill="#a2a2a2" stroke="#000" stroke-width="1.05"/>
<circle cx="626.3" cy="139.7" r="1.95" fill="#a2a2a2" stroke="#000" stroke-width="1.05"/>
<circle cx="621.5" cy="147.4" r="1.95" fill="#a2a2a2" stroke="#000" stroke-width="1.05"/>
<circle cx="616.8" cy="164.8" r="1.95" fill="#a2a2a2" stroke="#000" stroke-width="1.05"/>
<circle cx="626.3" cy="164.8" r="1.95" fill="#a2a2a2" stroke="#000" stroke-width="1.05"/>
<circle cx="621.5" cy="168.9" r="1.95" fill="#a2a2a2" stroke="#000" stroke-width="1.05"/>
<circle cx="612.3" cy="170.1" r="1.95" fill="#a2a2a2" stroke="#000" stroke-width="1.05"/>
<circle cx="631.0" cy="171.8" r="1.95" fill="#a2a2a2" stroke="#000" stroke-width="1.05"/>
<circle cx="621.5" cy="192.6" r="1.95" fill="#a2a2a2" stroke="#000" stroke-width="1.05"/>
<circle cx="621.5" cy="199.6" r="1.95" fill="#a2a2a2" stroke="#000" stroke-width="1.05"/>
<path d="M621.5 156.2V169.3M616.1 156.2H626.9M616.1 169.3H626.9" stroke="#000" stroke-width="1.1" fill="none"/>
<path d="M610.2 162.8H632.8" stroke="#000" stroke-width="2.1" fill="none"/>
<circle cx="646.0" cy="104.6" r="2.4" fill="#000"/>
<circle cx="653.6" cy="102.9" r="2.4" fill="#000"/>
<circle cx="649.7" cy="122.5" r="2.4" fill="#000"/>
<circle cx="646.0" cy="127.3" r="2.4" fill="#000"/>
<circle cx="653.6" cy="126.9" r="2.4" fill="#000"/>
<circle cx="649.7" cy="132.8" r="2.4" fill="#000"/>
<circle cx="649.7" cy="137.1" r="2.4" fill="#000"/>
<circle cx="649.7" cy="147.4" r="2.4" fill="#000"/>
<circle cx="646.0" cy="162.3" r="2.4" fill="#000"/>
<circle cx="653.6" cy="164.1" r="2.4" fill="#000"/>
<circle cx="649.7" cy="181.3" r="2.4" fill="#000"/>
<path d="M649.6 129.9V144.4M644.2 129.9H655.0M644.2 144.4H655.0" stroke="#000" stroke-width="1.1" fill="none"/>
<path d="M638.3 137.1H660.9" stroke="#000" stroke-width="2.1" fill="none"/>
<circle cx="463.9" cy="272.9" r="1.95" fill="#a2a2a2" stroke="#000" stroke-width="1.05"/>
<circle cx="463.9" cy="293.4" r="1.95" fill="#a2a2a2" stroke="#000" stroke-width="1.05"/>
<circle cx="463.9" cy="302.4" r="1.95" fill="#a2a2a2" stroke="#000" stroke-width="1.05"/>
<circle cx="460.2" cy="310.6" r="1.95" fill="#a2a2a2" stroke="#000" stroke-width="1.05"/>
<circle cx="467.7" cy="310.2" r="1.95" fill="#a2a2a2" stroke="#000" stroke-width="1.05"/>
<circle cx="460.2" cy="319.4" r="1.95" fill="#a2a2a2" stroke="#000" stroke-width="1.05"/>
<circle cx="467.7" cy="317.0" r="1.95" fill="#a2a2a2" stroke="#000" stroke-width="1.05"/>
<circle cx="463.9" cy="328.0" r="1.95" fill="#a2a2a2" stroke="#000" stroke-width="1.05"/>
<circle cx="463.9" cy="331.7" r="1.95" fill="#a2a2a2" stroke="#000" stroke-width="1.05"/>
<circle cx="463.9" cy="335.3" r="1.95" fill="#a2a2a2" stroke="#000" stroke-width="1.05"/>
<circle cx="463.9" cy="345.1" r="1.95" fill="#a2a2a2" stroke="#000" stroke-width="1.05"/>
<path d="M463.8 309.2V321.4M458.4 309.2H469.2M458.4 321.4H469.2" stroke="#000" stroke-width="1.1" fill="none"/>
<path d="M452.5 315.0H475.1" stroke="#000" stroke-width="2.1" fill="none"/>
<circle cx="491.8" cy="322.9" r="2.4" fill="#000"/>
<circle cx="488.0" cy="341.9" r="2.4" fill="#000"/>
<circle cx="495.7" cy="340.4" r="2.4" fill="#000"/>
<circle cx="495.7" cy="347.7" r="2.4" fill="#000"/>
<circle cx="488.0" cy="350.7" r="2.4" fill="#000"/>
<circle cx="495.7" cy="357.2" r="2.4" fill="#000"/>
<circle cx="488.0" cy="359.1" r="2.4" fill="#000"/>
<circle cx="495.7" cy="362.3" r="2.4" fill="#000"/>
<circle cx="488.0" cy="365.7" r="2.4" fill="#000"/>
<circle cx="491.8" cy="373.7" r="2.4" fill="#000"/>
<circle cx="491.8" cy="385.3" r="2.4" fill="#000"/>
<path d="M491.8 349.9V359.7M486.4 349.9H497.2M486.4 359.7H497.2" stroke="#000" stroke-width="1.1" fill="none"/>
<path d="M480.5 354.7H503.1" stroke="#000" stroke-width="2.1" fill="none"/>
<circle cx="541.9" cy="275.0" r="1.95" fill="#a2a2a2" stroke="#000" stroke-width="1.05"/>
<circle cx="532.8" cy="309.7" r="1.95" fill="#a2a2a2" stroke="#000" stroke-width="1.05"/>
<circle cx="542.2" cy="312.2" r="1.95" fill="#a2a2a2" stroke="#000" stroke-width="1.05"/>
<circle cx="532.8" cy="333.8" r="1.95" fill="#a2a2a2" stroke="#000" stroke-width="1.05"/>
<circle cx="542.2" cy="336.0" r="1.95" fill="#a2a2a2" stroke="#000" stroke-width="1.05"/>
<circle cx="532.8" cy="338.5" r="1.95" fill="#a2a2a2" stroke="#000" stroke-width="1.05"/>
<circle cx="551.4" cy="338.2" r="1.95" fill="#a2a2a2" stroke="#000" stroke-width="1.05"/>
<circle cx="537.5" cy="343.3" r="1.95" fill="#a2a2a2" stroke="#000" stroke-width="1.05"/>
<circle cx="546.7" cy="342.6" r="1.95" fill="#a2a2a2" stroke="#000" stroke-width="1.05"/>
<circle cx="542.2" cy="348.4" r="1.95" fill="#a2a2a2" stroke="#000" stroke-width="1.05"/>
<circle cx="542.2" cy="366.7" r="1.95" fill="#a2a2a2" stroke="#000" stroke-width="1.05"/>
<path d="M542.1 324.3V338.6M536.7 324.3H547.5M536.7 338.6H547.5" stroke="#000" stroke-width="1.1" fill="none"/>
<path d="M530.8 331.3H553.4" stroke="#000" stroke-width="2.1" fill="none"/>
<circle cx="569.9" cy="342.6" r="2.4" fill="#000"/>
<circle cx="569.9" cy="370.9" r="2.4" fill="#000"/>
<circle cx="569.9" cy="383.8" r="2.4" fill="#000"/>
<circle cx="569.9" cy="394.0" r="2.4" fill="#000"/>
<circle cx="569.9" cy="398.0" r="2.4" fill="#000"/>
<circle cx="569.9" cy="403.8" r="2.4" fill="#000"/>
<circle cx="560.6" cy="413.6" r="2.4" fill="#000"/>
<circle cx="569.9" cy="413.6" r="2.4" fill="#000"/>
<circle cx="579.1" cy="413.6" r="2.4" fill="#000"/>
<circle cx="569.9" cy="418.7" r="2.4" fill="#000"/>
<circle cx="569.9" cy="427.3" r="2.4" fill="#000"/>
<path d="M570.0 390.7V405.4M564.6 390.7H575.4M564.6 405.4H575.4" stroke="#000" stroke-width="1.1" fill="none"/>
<path d="M558.7 398.0H581.3" stroke="#000" stroke-width="2.1" fill="none"/>
<circle cx="620.5" cy="271.8" r="1.95" fill="#a2a2a2" stroke="#000" stroke-width="1.05"/>
<circle cx="620.5" cy="282.3" r="1.95" fill="#a2a2a2" stroke="#000" stroke-width="1.05"/>
<circle cx="615.7" cy="316.7" r="1.95" fill="#a2a2a2" stroke="#000" stroke-width="1.05"/>
<circle cx="624.9" cy="314.5" r="1.95" fill="#a2a2a2" stroke="#000" stroke-width="1.05"/>
<circle cx="620.3" cy="320.7" r="1.95" fill="#a2a2a2" stroke="#000" stroke-width="1.05"/>
<circle cx="620.3" cy="333.4" r="1.95" fill="#a2a2a2" stroke="#000" stroke-width="1.05"/>
<circle cx="629.5" cy="336.7" r="1.95" fill="#a2a2a2" stroke="#000" stroke-width="1.05"/>
<circle cx="611.0" cy="339.9" r="1.95" fill="#a2a2a2" stroke="#000" stroke-width="1.05"/>
<circle cx="620.3" cy="341.4" r="1.95" fill="#a2a2a2" stroke="#000" stroke-width="1.05"/>
<circle cx="629.5" cy="340.7" r="1.95" fill="#a2a2a2" stroke="#000" stroke-width="1.05"/>
<circle cx="620.3" cy="366.6" r="1.95" fill="#a2a2a2" stroke="#000" stroke-width="1.05"/>
<path d="M620.4 316.0V332.3M615.0 316.0H625.8M615.0 332.3H625.8" stroke="#000" stroke-width="1.1" fill="none"/>
<path d="M609.1 323.9H631.7" stroke="#000" stroke-width="2.1" fill="none"/>
<circle cx="648.2" cy="354.1" r="2.4" fill="#000"/>
<circle cx="648.2" cy="369.5" r="2.4" fill="#000"/>
<circle cx="639.0" cy="382.7" r="2.4" fill="#000"/>
<circle cx="648.2" cy="382.2" r="2.4" fill="#000"/>
<circle cx="657.6" cy="383.7" r="2.4" fill="#000"/>
<circle cx="648.2" cy="392.4" r="2.4" fill="#000"/>
<circle cx="639.0" cy="408.8" r="2.4" fill="#000"/>
<circle cx="648.2" cy="406.3" r="2.4" fill="#000"/>
<circle cx="657.6" cy="409.0" r="2.4" fill="#000"/>
<circle cx="648.2" cy="414.2" r="2.4" fill="#000"/>
<circle cx="648.2" cy="421.6" r="2.4" fill="#000"/>
<path d="M648.3 386.9V399.3M642.9 386.9H653.7M642.9 399.3H653.7" stroke="#000" stroke-width="1.1" fill="none"/>
<path d="M637.0 392.9H659.6" stroke="#000" stroke-width="2.1" fill="none"/>
<text x="98.6" y="127.0" font-size="17.0" stroke="#000" stroke-width="0.2">*</text>
<text x="116.3" y="117.5" font-size="17.0" stroke="#000" stroke-width="0.2">*</text>
<text x="166.2" y="109.5" font-size="17.0" stroke="#000" stroke-width="0.2">*</text>
<text x="184.1" y="101.2" font-size="17.0" stroke="#000" stroke-width="0.2">*</text>
<text x="233.9" y="138.2" font-size="17.0" stroke="#000" stroke-width="0.2">*</text>
<text x="248.8" y="125.3" font-size="17.0" stroke="#000" stroke-width="0.2">*</text>
<text x="301.7" y="124.1" font-size="17.0" stroke="#000" stroke-width="0.2">*</text>
<text x="316.8" y="111.4" font-size="17.0" stroke="#000" stroke-width="0.2">*</text>
<text x="98.3" y="355.6" font-size="17.0" stroke="#000" stroke-width="0.2">*</text>
<text x="113.3" y="389.2" font-size="17.0" stroke="#000" stroke-width="0.2">*</text>
<text x="165.9" y="405.2" font-size="17.0" stroke="#000" stroke-width="0.2">*</text>
<text x="181.5" y="415.1" font-size="17.0" stroke="#000" stroke-width="0.2">*</text>
<text x="233.6" y="330.8" font-size="17.0" stroke="#000" stroke-width="0.2">*</text>
<text x="248.1" y="356.4" font-size="17.0" stroke="#000" stroke-width="0.2">*</text>
<text x="302.2" y="312.9" font-size="17.0" stroke="#000" stroke-width="0.2">*</text>
<text x="317.5" y="347.9" font-size="17.0" stroke="#000" stroke-width="0.2">*</text>
<text x="461.0" y="124.1" font-size="17.0" stroke="#000" stroke-width="0.2">*</text>
<text x="489.5" y="102.9" font-size="17.0" stroke="#000" stroke-width="0.2">*</text>
<text x="539.3" y="118.3" font-size="17.0" stroke="#000" stroke-width="0.2">*</text>
<text x="564.9" y="93.1" font-size="17.0" stroke="#000" stroke-width="0.2">*</text>
<text x="617.8" y="117.7" font-size="17.0" stroke="#000" stroke-width="0.2">*</text>
<text x="643.7" y="90.0" font-size="17.0" stroke="#000" stroke-width="0.2">*</text>
<text x="461.3" y="374.7" font-size="17.0" stroke="#000" stroke-width="0.2">*</text>
<text x="486.3" y="419.8" font-size="17.0" stroke="#000" stroke-width="0.2">*</text>
<text x="536.4" y="399.5" font-size="17.0" stroke="#000" stroke-width="0.2">*</text>
<text x="565.3" y="456.1" font-size="17.0" stroke="#000" stroke-width="0.2">*</text>
<text x="617.8" y="397.5" font-size="17.0" stroke="#000" stroke-width="0.2">*</text>
<text x="643.7" y="455.7" font-size="17.0" stroke="#000" stroke-width="0.2">*</text>
<text x="254.3" y="119.9" font-size="14.6" stroke="#000" stroke-width="0.2">&#8224;</text>
<text x="322.1" y="106.0" font-size="14.6" stroke="#000" stroke-width="0.2">&#8224;</text>
<text x="118.7" y="383.8" font-size="14.6" stroke="#000" stroke-width="0.2">&#8224;</text>
<text x="187.0" y="409.7" font-size="14.6" stroke="#000" stroke-width="0.2">&#8224;</text>
<text x="253.6" y="351.0" font-size="14.6" stroke="#000" stroke-width="0.2">&#8224;</text>
<text x="322.8" y="342.6" font-size="14.6" stroke="#000" stroke-width="0.2">&#8224;</text>
<text x="570.2" y="87.8" font-size="14.6" stroke="#000" stroke-width="0.2">&#8224;</text>
<text x="648.8" y="84.3" font-size="14.6" stroke="#000" stroke-width="0.2">&#8224;</text>
<text x="491.6" y="414.0" font-size="14.6" stroke="#000" stroke-width="0.2">&#8224;</text>
<text x="571.1" y="450.7" font-size="14.6" stroke="#000" stroke-width="0.2">&#8224;</text>
<text x="649.2" y="449.7" font-size="14.6" stroke="#000" stroke-width="0.2">&#8224;</text>
<text x="566.7" y="77.5" font-size="13.6" stroke="#000" stroke-width="0.12">#</text>
<text x="645.4" y="73.9" font-size="13.6" stroke="#000" stroke-width="0.12">#</text>
<text x="543.9" y="394.3" font-size="13.6" stroke="#000" stroke-width="0.12">#</text>
<text x="567.3" y="461.3" font-size="13.6" stroke="#000" stroke-width="0.12">#</text>
<text x="645.7" y="460.5" font-size="13.6" stroke="#000" stroke-width="0.12">#</text>
<path d="M233.9 326.2H240.1" stroke="#000" stroke-width="0.8"/>
<path d="M248.2 353.1H260.3" stroke="#000" stroke-width="0.8"/>
</svg>
</body></html>
